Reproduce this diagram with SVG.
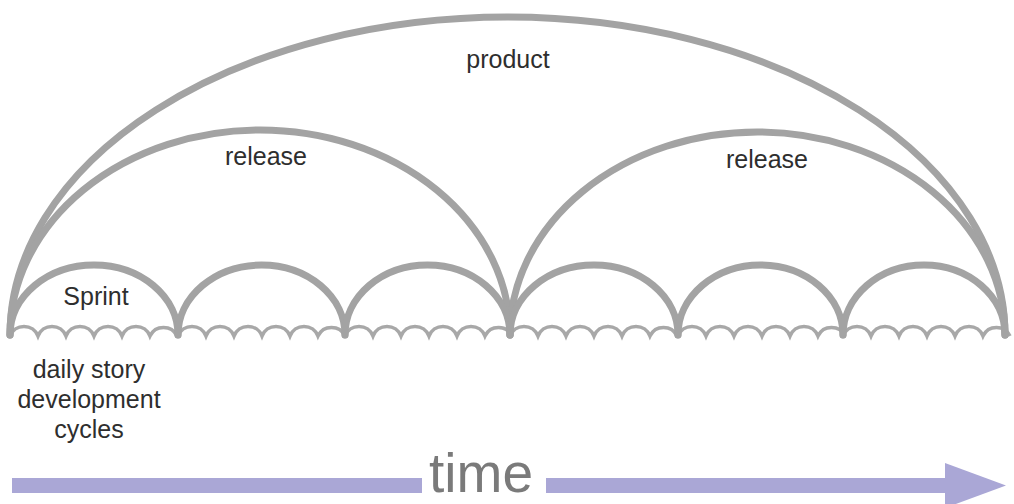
<svg xmlns="http://www.w3.org/2000/svg" width="1014" height="504" viewBox="0 0 1014 504">
  <style>
    .arc { fill: none; stroke: #a3a3a3; stroke-width: 7; stroke-linecap: round; }
    .day { fill: none; stroke: #a8a8a8; stroke-width: 3.5; }
    .lbl { font-family: "Liberation Sans", Arial, sans-serif; font-size: 25px; fill: #2e2e2e; text-anchor: middle; }
    .time { font-family: "Liberation Sans", Arial, sans-serif; font-size: 56px; fill: #7a7a7a; text-anchor: middle; }
    .bar { fill: #aaa7d6; }
  </style>
  <defs>
    <!-- six daily cycles spanning one sprint -->
    <path id="days" d="M0 336 a15 15 0 0 1 28 0 a15 15 0 0 1 28 0 a15 15 0 0 1 28 0 a15 15 0 0 1 28 0 a15 15 0 0 1 28 0 a15 15 0 0 1 27 0"/>
  </defs>
  <rect width="1014" height="504" fill="#ffffff"/>

  <g id="connectors">
    <g id="daily-cycles" class="day">
      <use href="#days" x="10"/>
      <use href="#days" x="178"/>
      <use href="#days" x="345"/>
      <use href="#days" x="510"/>
      <use href="#days" x="678"/>
      <use href="#days" x="843"/>
    </g>
  </g>

  <g id="product">
    <path class="arc" d="M10 335 A497.5 318 0 0 1 1005 335"/>
    <text class="lbl" x="508" y="68">product</text>
  </g>
  <g id="release-1">
    <path class="arc" d="M10 335 A250 205 0 0 1 510 335"/>
    <text class="lbl" x="266" y="165">release</text>
  </g>
  <g id="release-2">
    <path class="arc" d="M510 335 A247.5 203 0 0 1 1005 335"/>
    <text class="lbl" x="767" y="168">release</text>
  </g>
  <g id="sprint-1">
    <path class="arc" d="M10 335 A84 70 0 0 1 178 335"/>
    <text class="lbl" x="96" y="305">Sprint</text>
  </g>
  <g id="sprint-2"><path class="arc" d="M178 335 A83.5 70 0 0 1 345 335"/></g>
  <g id="sprint-3"><path class="arc" d="M345 335 A82.5 70 0 0 1 510 335"/></g>
  <g id="sprint-4"><path class="arc" d="M510 335 A84 70 0 0 1 678 335"/></g>
  <g id="sprint-5"><path class="arc" d="M678 335 A82.5 70 0 0 1 843 335"/></g>
  <g id="sprint-6"><path class="arc" d="M843 335 A81 70 0 0 1 1005 335"/></g>

  <g id="daily-label">
    <text class="lbl" x="89" y="378">daily story</text>
    <text class="lbl" x="89" y="408">development</text>
    <text class="lbl" x="89" y="438">cycles</text>
  </g>

  <g id="time-axis">
    <rect class="bar" x="12" y="478" width="410" height="15"/>
    <rect class="bar" x="546" y="478" width="402" height="15"/>
    <polygon class="bar" points="945,463 1006,485.5 945,508"/>
    <text class="time" x="481" y="492" textLength="104" lengthAdjust="spacingAndGlyphs">time</text>
  </g>
</svg>
